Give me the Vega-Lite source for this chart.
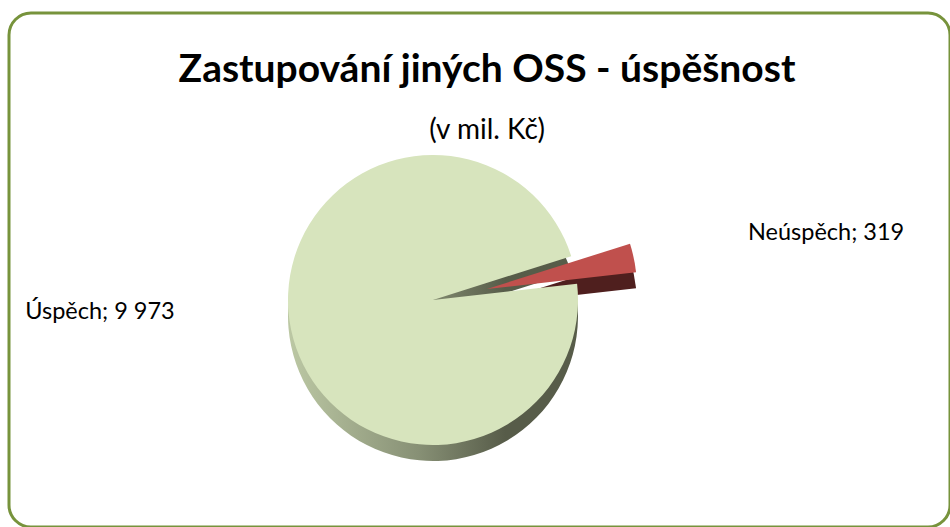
{
  "$schema": "https://vega.github.io/schema/vega-lite/v6.json",
  "width": 941,
  "height": 514,
  "autosize": {"type": "none"},
  "padding": {"left": 9, "top": 13, "right": 0, "bottom": 0},
  "background": "white",
  "view": {"stroke": "#77933C", "strokeWidth": 3, "cornerRadius": 22, "fill": "white"},
  "config": {
    "font": "Lato"
  },
  "title": {
    "text": "Zastupování jiných OSS - úspěšnost",
    "subtitle": "(v mil. Kč)",
    "font": "Lato",
    "fontSize": 39,
    "fontWeight": "bold",
    "color": "black",
    "subtitleFont": "Lato",
    "subtitleFontSize": 28,
    "subtitleColor": "black",
    "subtitlePadding": 27,
    "offset": -132,
    "anchor": "middle",
    "dx": 7.5
  },
  "data": {
    "values": [
      {"kategorie": "Úspěch", "hodnota": 9973},
      {"kategorie": "Neúspěch", "hodnota": 319}
    ]
  },
  "transform": [
    {"stack": "hodnota", "groupby": [], "sort": [{"field": "kategorie", "order": "descending"}], "as": ["zacatek", "konec"]}
  ],
  "layer": [
    {
      "transform": [{"filter": "datum.kategorie === 'Úspěch'"}],
      "mark": {
        "type": "arc", "radius": 145, "xOffset": -46.5, "yOffset": 46,
        "fill": {"gradient": "linear", "x1": 0, "x2": 1, "y1": 0, "y2": 0,
          "stops": [
            {"offset": 0, "color": "#BCC8A4"},
            {"offset": 0.45, "color": "#879075"},
            {"offset": 0.75, "color": "#575C49"},
            {"offset": 1, "color": "#575C49"}
          ]}
      },
      "encoding": {
        "theta": {"field": "zacatek", "type": "quantitative", "scale": {"domain": [0, 10292], "range": [1.459, 7.742]}},
        "theta2": {"field": "konec"}
      }
    },
    {
      "transform": [{"filter": "datum.kategorie === 'Neúspěch'"}],
      "mark": {"type": "arc", "radius": 150, "xOffset": 7.5, "yOffset": 35, "fill": "#4F1F1E"},
      "encoding": {
        "theta": {"field": "zacatek", "type": "quantitative"},
        "theta2": {"field": "konec"}
      }
    },
    {
      "transform": [{"filter": "datum.kategorie === 'Úspěch'"}],
      "mark": {"type": "arc", "radius": 145, "xOffset": -46.5, "yOffset": 30},
      "encoding": {
        "theta": {"field": "zacatek", "type": "quantitative"},
        "theta2": {"field": "konec"},
        "color": {"field": "kategorie", "type": "nominal", "scale": {"domain": ["Úspěch", "Neúspěch"], "range": ["#D7E4BD", "#C0504D"]}, "legend": null}
      }
    },
    {
      "transform": [{"filter": "datum.kategorie === 'Neúspěch'"}],
      "mark": {"type": "arc", "radius": 150, "xOffset": 7.5, "yOffset": 19},
      "encoding": {
        "theta": {"field": "zacatek", "type": "quantitative"},
        "theta2": {"field": "konec"},
        "color": {"field": "kategorie", "type": "nominal", "legend": null}
      }
    },
    {
      "mark": {
        "type": "text", "radius": 322, "align": "left", "baseline": "middle",
        "xOffset": -46.5, "yOffset": 30, "fontSize": 23.5, "font": "Lato", "color": "black",
        "text": {"expr": "datum.kategorie === 'Neúspěch' ? datum.kategorie + '; ' + datum.hodnota : ''"}
      },
      "encoding": {
        "theta": {"field": "hodnota", "type": "quantitative", "stack": true},
        "order": {"field": "kategorie", "sort": "descending"}
      }
    },
    {
      "mark": {
        "type": "text", "radius": 264, "align": "right", "baseline": "middle",
        "xOffset": -46.5, "yOffset": 30, "dy": -43, "fontSize": 23.5, "font": "Lato", "color": "black",
        "text": {"expr": "datum.kategorie === 'Úspěch' ? datum.kategorie + '; ' + replace(format(datum.hodnota, ','), ',', ' ') : ''"}
      },
      "encoding": {
        "theta": {"field": "hodnota", "type": "quantitative", "stack": true},
        "order": {"field": "kategorie", "sort": "descending"}
      }
    }
  ]
}
